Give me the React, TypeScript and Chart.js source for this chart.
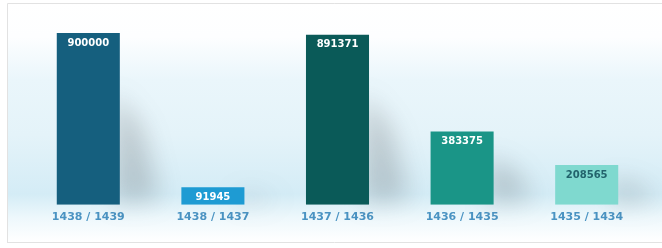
import React, { useEffect, useRef } from "react";
import { Chart, registerables } from "chart.js";

Chart.register(...registerables);

const categories = ["1438 / 1439", "1438 / 1437", "1437 / 1436", "1436 / 1435", "1435 / 1434"];
const values = [900000, 91945, 891371, 383375, 208565];
const barColors = ["#155f7e", "#1e9bd3", "#0a5a58", "#1a9587", "#7fd9cf"];
const valueLabelColors = ["#ffffff", "#ffffff", "#ffffff", "#ffffff", "#22636c"];
const yMax = 900000;

const cardPlugin = {
  id: "card",
  beforeDraw(chart: any) {
    const { ctx, width } = chart;
    ctx.save();
    ctx.fillStyle = "#ffffff";
    ctx.fillRect(0, 0, width, chart.height);
    const top = 3;
    const bottom = 242;
    const left = 7;
    const g = ctx.createLinearGradient(0, top, 0, bottom);
    g.addColorStop(0, "#ffffff");
    g.addColorStop(0.14, "#fdfeff");
    g.addColorStop(0.32, "#eaf6fb");
    g.addColorStop(0.55, "#e4f3f9");
    g.addColorStop(0.8, "#d4ecf6");
    g.addColorStop(0.9, "#eef8fc");
    g.addColorStop(1, "#ffffff");
    ctx.fillStyle = g;
    ctx.fillRect(left, top, width - left, bottom - top);
    ctx.strokeStyle = "#e2e2e2";
    ctx.lineWidth = 1;
    ctx.beginPath();
    ctx.moveTo(left + 0.5, bottom + 0.5);
    ctx.lineTo(left + 0.5, top + 0.5);
    ctx.lineTo(width, top + 0.5);
    ctx.moveTo(left, bottom + 0.5);
    ctx.lineTo(width, bottom + 0.5);
    ctx.stroke();
    ctx.restore();
  },
};

const shadowPlugin = {
  id: "barShadow",
  beforeDatasetsDraw(chart: any) {
    const { ctx } = chart;
    const meta = chart.getDatasetMeta(0);
    ctx.save();
    ctx.filter = "blur(12px)";
    ctx.fillStyle = "rgba(80,85,90,0.26)";
    meta.data.forEach((bar: any) => {
      const { x, y, base, width } = bar.getProps(["x", "y", "base", "width"], true);
      const right = x + width / 2;
      const h = base - y;
      ctx.beginPath();
      ctx.moveTo(right - 6, base - 2);
      ctx.lineTo(right - 6, y + h * 0.35);
      ctx.lineTo(right + 22, y + h * 0.55);
      ctx.lineTo(right + 40, base - 6);
      ctx.closePath();
      ctx.fill();
    });
    ctx.restore();
  },
};

const valueLabelPlugin = {
  id: "valueLabels",
  afterDatasetsDraw(chart: any) {
    const { ctx } = chart;
    const meta = chart.getDatasetMeta(0);
    ctx.save();
    ctx.font = "bold 10px 'DejaVu Sans'";
    ctx.textAlign = "center";
    ctx.textBaseline = "middle";
    meta.data.forEach((bar: any, i: number) => {
      const { x, y } = bar.getProps(["x", "y"], true);
      ctx.fillStyle = valueLabelColors[i];
      ctx.fillText(String(values[i]), x, y + 10);
    });
    ctx.restore();
  },
};

export default function App() {
  const ref = useRef<HTMLCanvasElement | null>(null);
  useEffect(() => {
    if (!ref.current) return;
    const chart = new Chart(ref.current, {
      type: "bar",
      data: {
        labels: categories,
        datasets: [
          {
            data: values,
            backgroundColor: barColors,
            borderWidth: 0,
            categoryPercentage: 1,
            barPercentage: 0.506,
          },
        ],
      },
      options: {
        animation: false,
        responsive: false,
        devicePixelRatio: 1,
        layout: { padding: { left: 26, right: 13, top: 33, bottom: 18 } },
        plugins: { legend: { display: false }, tooltip: { enabled: false } },
        scales: {
          x: {
            grid: { display: false, drawTicks: false },
            border: { display: false },
            ticks: {
              padding: 6,
              color: "#4a93c2",
              font: { family: "'DejaVu Sans'", size: 11, weight: "bold" },
            },
          },
          y: {
            display: false,
            min: 0,
            max: yMax,
          },
        },
      },
      plugins: [cardPlugin, shadowPlugin, valueLabelPlugin],
    });
    return () => chart.destroy();
  }, []);
  return (
    <div style={{ position: "fixed", left: 0, top: 0, width: 662, height: 248 }}>
      <canvas ref={ref} width={662} height={248} style={{ width: 662, height: 248, display: "block" }} />
    </div>
  );
}
